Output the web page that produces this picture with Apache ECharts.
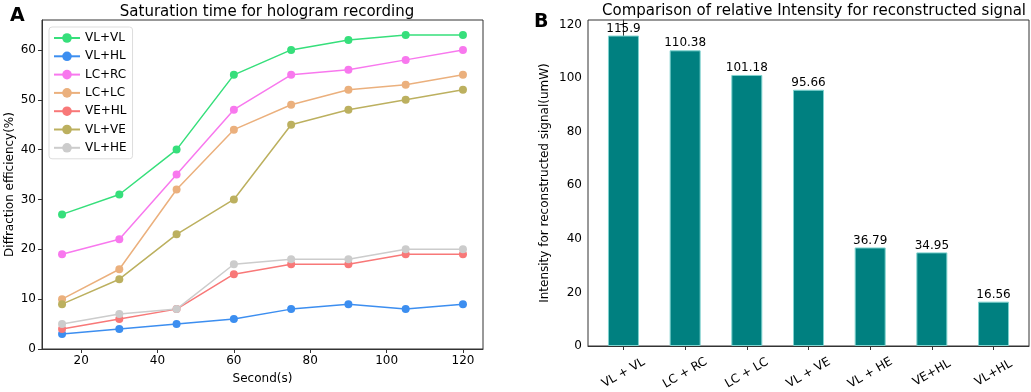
<!DOCTYPE html>
<html>
<head>
<meta charset="utf-8">
<script src="https://cdn.jsdelivr.net/npm/echarts@6/dist/echarts.min.js"></script>
<style>
  html, body { margin: 0; padding: 0; background: #fff; }
  #main { width: 1031px; height: 392px; }
</style>
</head>
<body>
<div id="main"></div>
<script>
// panel A: saturation time
var seconds = [15, 30, 45, 60, 75, 90, 105, 120];
var lineNames = ['VL+VL', 'VL+HL', 'LC+RC', 'LC+LC', 'VE+HL', 'VL+VE', 'VL+HE'];
var lineColors = ['#36df7b', '#3c8ef0', '#f878ee', '#ebb07d', '#f87878', '#bcb05f', '#cccccc'];
var vlvl = [27, 31, 40, 55, 60, 62, 63, 63];
var vlhl = [3, 4, 5, 6, 8, 9, 8, 9];
var lcrc = [19, 22, 35, 48, 55, 56, 58, 60];
var lclc = [10, 16, 32, 44, 49, 52, 53, 55];
var vehl = [4, 6, 8, 15, 17, 17, 19, 19];
var vlve = [9, 14, 23, 30, 45, 48, 50, 52];
var vlhe = [5, 7, 8, 17, 18, 18, 20, 20];
var lineValues = [vlvl, vlhl, lcrc, lclc, vehl, vlve, vlhe];
var xTicksA = [20, 40, 60, 80, 100, 120];
var yTicksA = [0, 10, 20, 30, 40, 50, 60];

// panel B: intensity
var barNames = ['VL + VL', 'LC + RC', 'LC + LC', 'VL + VE', 'VL + HE', 'VE+HL', 'VL+HL'];
var barValues = [115.9, 110.38, 101.18, 95.66, 36.79, 34.95, 16.56];
var yTicksB = [0, 20, 40, 60, 80, 100, 120];

var font = 'DejaVu Sans';
var axisCol = '#333';

var lineSeries = lineNames.map(function(n, i) {
  return {
    name: n,
    type: 'line',
    xAxisIndex: 0,
    yAxisIndex: 0,
    data: seconds.map(function(s, j) { return [s, lineValues[i][j]]; }),
    color: lineColors[i],
    symbol: 'circle',
    symbolSize: 8,
    lineStyle: { width: 1.5 },
    itemStyle: { color: lineColors[i] },
    emphasis: { disabled: true }
  };
});

var barIdx = barNames.map(function(n, i) { return i; });

var option = {
  animation: false,
  textStyle: { fontFamily: font },
  title: [
    { text: 'Saturation time for hologram recording', left: 262, top: 0, textAlign: 'center',
      textStyle: { fontFamily: font, fontSize: 15, fontWeight: 'normal', color: '#000' } },
    { text: 'Comparison of relative Intensity for reconstructed signal', left: 809, top: -1, textAlign: 'center',
      textStyle: { fontFamily: font, fontSize: 15, fontWeight: 'normal', color: '#000' } },
    { text: 'A', left: 5, top: 2, textStyle: { fontFamily: font, fontSize: 19, fontWeight: 'bold', color: '#000' } },
    { text: 'B', left: 529, top: 8, textStyle: { fontFamily: font, fontSize: 19, fontWeight: 'bold', color: '#000' } }
  ],
  legend: {
    data: lineNames,
    orient: 'vertical',
    left: 49,
    top: 27,
    itemWidth: 26,
    itemHeight: 12,
    itemGap: 6.3,
    padding: [5, 6, 5, 4],
    borderColor: '#ddd',
    borderWidth: 1,
    borderRadius: 3,
    backgroundColor: '#fff',
    textStyle: { fontFamily: font, fontSize: 12, color: '#000' }
  },
  grid: [
    { left: 42, right: 548, top: 20, bottom: 43, show: true, borderColor: axisCol, borderWidth: 1, backgroundColor: 'transparent' },
    { left: 588, right: 2, top: 20, bottom: 43, show: true, borderColor: axisCol, borderWidth: 1, backgroundColor: 'transparent' }
  ],
  xAxis: [
    {
      type: 'value', gridIndex: 0, min: 9.75, max: 125.25,
      name: 'Second(s)', nameLocation: 'middle', nameGap: 24,
      nameTextStyle: { fontFamily: font, fontSize: 12, color: '#000' },
      axisLine: { show: true, lineStyle: { color: axisCol } },
      axisTick: { show: true, length: 4, customValues: xTicksA, lineStyle: { color: axisCol } },
      axisLabel: { customValues: xTicksA, fontSize: 12, color: '#000', margin: 6, fontFamily: font },
      splitLine: { show: false }
    },
    {
      type: 'value', gridIndex: 1, min: -0.575, max: 6.575,
      axisLine: { show: true, lineStyle: { color: axisCol } },
      axisTick: { show: true, length: 4, customValues: barIdx, lineStyle: { color: axisCol } },
      axisLabel: {
        customValues: barIdx, fontSize: 12, color: '#000', fontFamily: font,
        rotate: 30, align: 'center', verticalAlign: 'middle', margin: 27,
        formatter: function(v) { return barNames[Math.round(v)]; }
      },
      splitLine: { show: false }
    }
  ],
  yAxis: [
    {
      type: 'value', gridIndex: 0, min: 0, max: 66,
      name: 'Diffraction efficiency(%)', nameLocation: 'middle', nameGap: 26,
      nameTextStyle: { fontFamily: font, fontSize: 12, color: '#000' },
      axisLine: { show: true, lineStyle: { color: axisCol } },
      axisTick: { show: true, length: 4, customValues: yTicksA, lineStyle: { color: axisCol } },
      axisLabel: { customValues: yTicksA, fontSize: 12, color: '#000', margin: 6, fontFamily: font },
      splitLine: { show: false }
    },
    {
      type: 'value', gridIndex: 1, min: 0, max: 121.7,
      name: 'Intensity for reconstructed signal(umW)', nameLocation: 'middle', nameGap: 37,
      nameTextStyle: { fontFamily: font, fontSize: 12, color: '#000' },
      axisLine: { show: true, lineStyle: { color: axisCol } },
      axisTick: { show: true, length: 4, customValues: yTicksB, lineStyle: { color: axisCol } },
      axisLabel: { customValues: yTicksB, fontSize: 12, color: '#000', margin: 6, fontFamily: font },
      splitLine: { show: false }
    }
  ],
  series: lineSeries.concat([
    {
      name: 'intensity',
      type: 'bar',
      xAxisIndex: 1,
      yAxisIndex: 1,
      barWidth: 31,
      data: barValues.map(function(v, i) { return [i, v]; }),
      itemStyle: { color: '#008080', borderColor: '#7fd3cf', borderWidth: 1 },
      label: {
        show: true, position: 'top', distance: 1, fontSize: 12, color: '#000', fontFamily: font,
        formatter: function(p) { return String(p.value[1]); }
      },
      emphasis: { disabled: true }
    }
  ])
};

var chart = echarts.init(document.getElementById('main'), null, { renderer: 'canvas' });
chart.setOption(option);
</script>
</body>
</html>
